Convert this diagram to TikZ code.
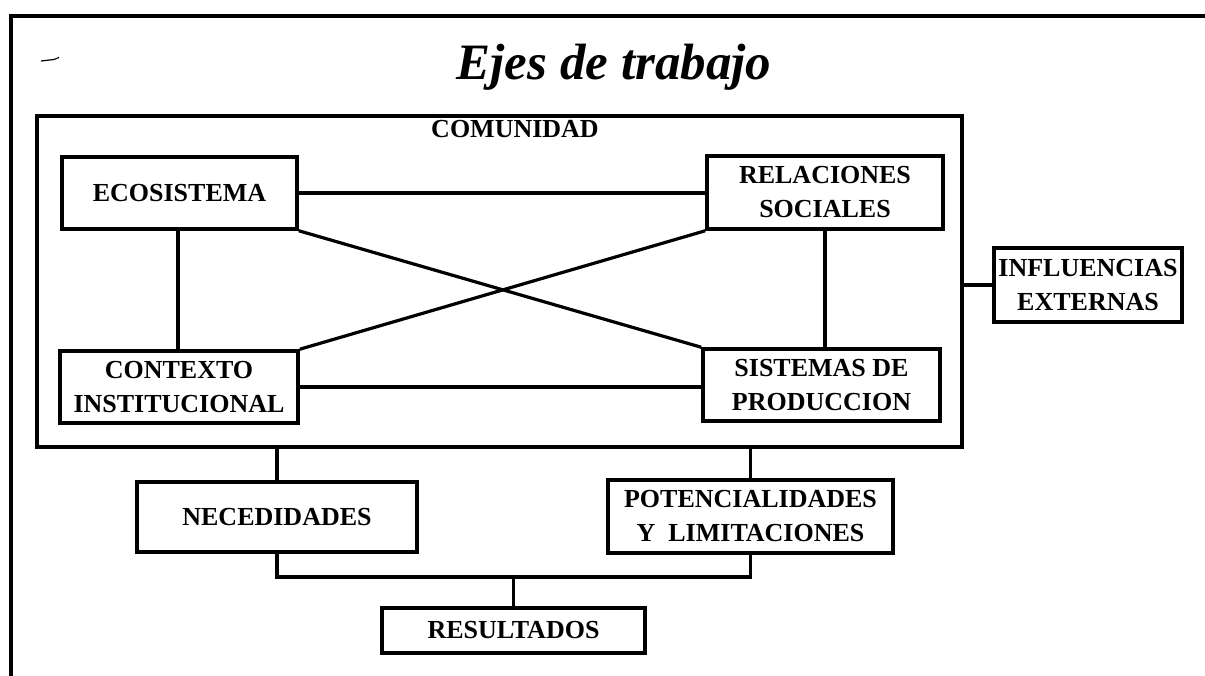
\documentclass[tikz,border=0pt]{standalone}
\usepackage{fontspec}
\setmainfont{Liberation Serif}
\begin{document}
\begin{tikzpicture}[x=1pt,y=-1pt,
  box/.style={draw,line width=3.5pt,inner sep=0pt,align=center,
    font=\fontsize{26}{34}\selectfont\bfseries},
  conn/.style={line width=3.2pt},
  frameline/.style={line width=4pt}]
\useasboundingbox (0,0) rectangle (1205,676);
\fill[white] (0,0) rectangle (1205,676);
\draw[frameline] (11,680) -- (11,16) -- (1210,16);
\draw[line width=1.2pt] (41,61) -- (54,59.5) -- (59,57.5);
\node[anchor=base,inner sep=0pt,font=\fontsize{51}{60}\selectfont\bfseries\itshape] (title) at (614,80) {Ejes de trabajo};
% community box
\node[draw,line width=3.5pt,minimum width=925pt,minimum height=331pt,inner sep=0pt] (com) at (499.5,281.5) {};
\node[anchor=base,inner sep=0pt,font=\fontsize{26}{30}\selectfont\bfseries] (comlbl) at (515,138) {COMUNIDAD};
% inner boxes
\node[box,minimum width=235pt,minimum height=72pt] (eco) at (179.5,193) {ECOSISTEMA};
\node[box,minimum width=236pt,minimum height=73pt] (rel) at (825,192.5) {RELACIONES\\SOCIALES};
\node[box,minimum width=238pt,minimum height=72pt] (ctx) at (179,387) {CONTEXTO\\INSTITUCIONAL};
\node[box,minimum width=237pt,minimum height=72pt] (sis) at (821.5,385) {SISTEMAS DE\\PRODUCCION};
% external
\node[box,minimum width=188pt,minimum height=74pt] (inf) at (1088,285) {INFLUENCIAS\\EXTERNAS};
% lower boxes
\node[box,minimum width=280pt,minimum height=70pt] (nec) at (277,517) {NECEDIDADES};
\node[box,minimum width=285pt,minimum height=73pt] (pot) at (750.5,516.5) {POTENCIALIDADES\\Y\ \ LIMITACIONES};
\node[box,minimum width=263pt,minimum height=45pt] (res) at (513.5,630.5) {RESULTADOS};
\coordinate (j) at (513.5,577);
% connectors inside community
\draw[conn] (eco.east) -- (eco.east -| rel.west);
\draw[conn] (ctx.east |- 0,387) -- (sis.west |- 0,387);
\draw[conn] (eco.south -| 178,0) -- (ctx.north -| 178,0);
\draw[conn] (rel.south -| 825,0) -- (sis.north -| 825,0);
\draw[conn] (eco.south east) -- (sis.north west);
\draw[conn] (rel.south west) -- (ctx.north east);
% external connector
\draw[conn] (com.east |- inf.west) -- (inf.west);
% lower connectors
\draw[conn] (com.south -| nec.north) -- (nec.north);
\draw[conn] (com.south -| pot.north) -- (pot.north);
\draw[conn] (nec.south) -- (nec.south |- j) -- (pot.south |- j) -- (pot.south);
\draw[conn] (j) -- (res.north);
\end{tikzpicture}
\end{document}
